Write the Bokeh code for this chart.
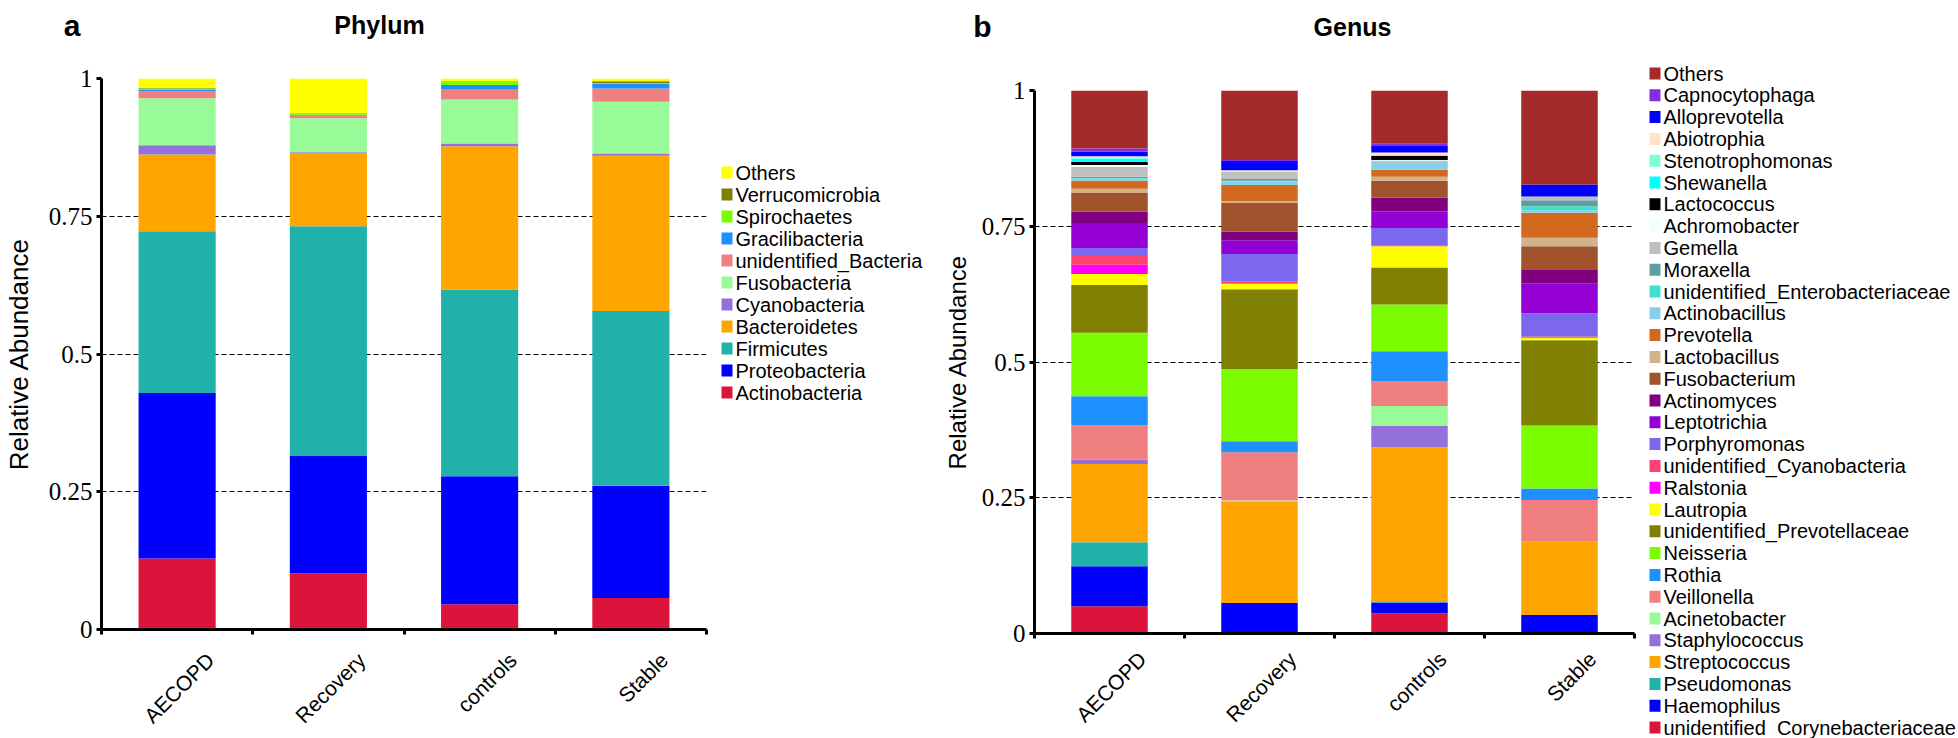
import math
from bokeh.plotting import figure
from bokeh.models import Range1d, FixedTicker, CustomJSTickFormatter, ColumnDataSource
from bokeh.layouts import row, column
from bokeh.embed import file_html
from bokeh.resources import INLINE
from bokeh.core.properties import value

# ---------------- data ----------------
categories = ["AECOPD", "Recovery", "controls", "Stable"]

# Phylum (bottom -> top of stack)
phylum_names = ["Actinobacteria", "Proteobacteria", "Firmicutes", "Bacteroidetes",
                "Cyanobacteria", "Fusobacteria", "unidentified_Bacteria",
                "Gracilibacteria", "Spirochaetes", "Verrucomicrobia", "Others"]
phylum_colors = ["#DC143C", "#0000FF", "#20B2AA", "#FFA500", "#9370DB", "#98FB98",
                 "#F08080", "#1E90FF", "#7CFC00", "#808000", "#FFFF00"]
phylum_AECOPD = [0.129, 0.300, 0.294, 0.139, 0.017, 0.085, 0.013, 0.003, 0.002, 0.001, 0.017]
phylum_Recovery = [0.102, 0.214, 0.416, 0.133, 0.001, 0.062, 0.005, 0.001, 0.002, 0.001, 0.063]
phylum_controls = [0.046, 0.232, 0.339, 0.260, 0.005, 0.080, 0.019, 0.007, 0.006, 0.001, 0.005]
phylum_Stable = [0.057, 0.204, 0.317, 0.282, 0.004, 0.094, 0.024, 0.008, 0.002, 0.003, 0.005]

# Genus (bottom -> top of stack)
genus_names = ["unidentified_Corynebacteriaceae", "Haemophilus", "Pseudomonas",
               "Streptococcus", "Staphylococcus", "Acinetobacter", "Veillonella",
               "Rothia", "Neisseria", "unidentified_Prevotellaceae", "Lautropia",
               "Ralstonia", "unidentified_Cyanobacteria", "Porphyromonas",
               "Leptotrichia", "Actinomyces", "Fusobacterium", "Lactobacillus",
               "Prevotella", "Actinobacillus", "unidentified_Enterobacteriaceae",
               "Moraxella", "Gemella", "Achromobacter", "Lactococcus", "Shewanella",
               "Stenotrophomonas", "Abiotrophia", "Alloprevotella", "Capnocytophaga",
               "Others"]
genus_colors = ["#DC143C", "#0000FF", "#20B2AA", "#FFA500", "#9370DB", "#98FB98",
                "#F08080", "#1E90FF", "#7CFC00", "#808000", "#FFFF00", "#FF00FF",
                "#FF4070", "#7B68EE", "#9400D3", "#800080", "#A0522D", "#D2B48C",
                "#D2691E", "#87CEEB", "#40E0D0", "#5F9EA0", "#C0C0C0", "#F0FFFF",
                "#000000", "#00FFFF", "#7FFFD4", "#FFE4C4", "#0000FF", "#8A2BE2",
                "#A52A2A"]
genus_AECOPD = [0.050, 0.074, 0.044, 0.144, 0.008, 0.000, 0.063, 0.054, 0.117, 0.088,
                0.020, 0.017, 0.016, 0.015, 0.046, 0.021, 0.035, 0.007, 0.015, 0.004,
                0.001, 0.002, 0.018, 0.004, 0.006, 0.006, 0.002, 0.002, 0.008, 0.006,
                0.107]
genus_Recovery = [0.000, 0.056, 0.000, 0.186, 0.001, 0.002, 0.089, 0.020, 0.133, 0.147,
                  0.010, 0.001, 0.003, 0.051, 0.025, 0.016, 0.053, 0.003, 0.030, 0.007,
                  0.001, 0.003, 0.014, 0.002, 0.000, 0.000, 0.000, 0.000, 0.017, 0.002,
                  0.128]
genus_controls = [0.037, 0.020, 0.001, 0.285, 0.039, 0.037, 0.045, 0.056, 0.086, 0.068,
                  0.039, 0.000, 0.002, 0.032, 0.030, 0.026, 0.031, 0.007, 0.013, 0.014,
                  0.000, 0.001, 0.002, 0.001, 0.008, 0.000, 0.001, 0.005, 0.012, 0.004,
                  0.098]
genus_Stable = [0.000, 0.034, 0.000, 0.135, 0.000, 0.000, 0.077, 0.021, 0.116, 0.157,
                0.004, 0.001, 0.002, 0.043, 0.055, 0.026, 0.042, 0.016, 0.046, 0.004,
                0.008, 0.011, 0.007, 0.000, 0.000, 0.000, 0.000, 0.000, 0.022, 0.000,
                0.173]

y_ticks = [0, 0.25, 0.5, 0.75, 1]
grid_ticks = [0.25, 0.5, 0.75]

FONT = "Liberation Sans"
NARROW = "Liberation Sans Narrow"
TOTAL_H = 738
LABEL_SHIFT = 0.22   # rotated labels are anchored at their right end, a bit right of the bar


def make_header(width, height, letter, letter_xy, title, title_xy):
    h = figure(width=width, height=height, x_range=Range1d(0, width),
               y_range=Range1d(height, 0), output_backend="svg", toolbar_location=None,
               min_border=0, x_axis_type=None, y_axis_type=None, title=None,
               frame_align=False)
    h.outline_line_color = None
    h.text(x=[letter_xy[0]], y=[letter_xy[1]], text=[letter], text_align="center",
           text_baseline="alphabetic", text_font=value(FONT), text_font_size=value("30px"),
           text_font_style="bold", text_color="black")
    h.text(x=[title_xy[0]], y=[title_xy[1]], text=[title], text_align="center",
           text_baseline="alphabetic", text_font=value(FONT), text_font_size=value("25px"),
           text_font_style="bold", text_color="black")
    return h


def make_chart(names, colors, per_cat, width, height, bl, br, bt, frame_h, ylabel_size,
               ylabel_standoff, xlabel_standoff):
    bb = height - bt - frame_h
    p = figure(width=width, height=height, x_range=Range1d(0, len(categories)),
               y_range=Range1d(0, 1), output_backend="svg", toolbar_location=None,
               min_border_left=bl, min_border_right=br, min_border_top=bt,
               min_border_bottom=bb, title=None, frame_align=False)
    data = {"x": [i + 0.5 for i in range(len(categories))]}
    for j, n in enumerate(names):
        data[n] = [vals[j] for vals in per_cat]
    src = ColumnDataSource(data)
    p.vbar_stack(names, x="x", width=0.51, fill_color=colors, line_color=None, source=src)

    p.outline_line_color = None
    p.xgrid.visible = False
    p.ygrid.ticker = FixedTicker(ticks=grid_ticks)
    p.ygrid.grid_line_color = "black"
    p.ygrid.grid_line_dash = "5 3"
    p.ygrid.grid_line_width = 1

    # x axis: labels near the bar centres, small ticks at the category boundaries
    p.xaxis.ticker = FixedTicker(ticks=[i + 0.5 + LABEL_SHIFT for i in range(len(categories))],
                                 minor_ticks=list(range(len(categories) + 1)))
    p.xaxis.formatter = CustomJSTickFormatter(args=dict(names=categories),
                                              code="return names[Math.floor(tick)]")
    p.xaxis.major_label_orientation = math.pi / 4
    p.xaxis.major_tick_line_color = None
    p.xaxis.major_tick_out = 0
    p.xaxis.major_tick_in = 0
    p.xaxis.minor_tick_line_color = "black"
    p.xaxis.minor_tick_line_width = 3
    p.xaxis.minor_tick_out = 5
    p.xaxis.minor_tick_in = 0
    p.xaxis.major_label_standoff = xlabel_standoff
    p.xaxis.major_label_text_font = FONT
    p.xaxis.major_label_text_font_size = "21px"
    p.xaxis.major_label_text_color = "black"
    p.xaxis.axis_line_width = 3
    p.xaxis.axis_line_color = "black"

    p.yaxis.ticker = FixedTicker(ticks=y_ticks)
    p.yaxis.formatter = CustomJSTickFormatter(code="return tick.toString()")
    p.yaxis.axis_line_width = 3
    p.yaxis.axis_line_color = "black"
    p.yaxis.major_tick_line_width = 3
    p.yaxis.major_tick_line_color = "black"
    p.yaxis.major_tick_out = 5
    p.yaxis.major_tick_in = 0
    p.yaxis.minor_tick_line_color = None
    p.yaxis.major_label_text_font = NARROW
    p.yaxis.major_label_text_font_size = "25px"
    p.yaxis.major_label_text_color = "black"
    p.yaxis.major_label_standoff = 4
    p.yaxis.axis_label = "Relative Abundance"
    p.yaxis.axis_label_text_font = FONT
    p.yaxis.axis_label_text_font_size = ylabel_size
    p.yaxis.axis_label_text_font_style = "normal"
    p.yaxis.axis_label_text_color = "black"
    p.yaxis.axis_label_standoff = ylabel_standoff
    return p


def make_legend(names, colors, width, height, y0, dy, font_size):
    lg = figure(width=width, height=height, x_range=Range1d(0, width),
                y_range=Range1d(height, 0), output_backend="svg", toolbar_location=None,
                min_border=0, x_axis_type=None, y_axis_type=None, title=None,
                frame_align=False)
    lg.outline_line_color = None
    order = list(reversed(range(len(names))))
    ys = [y0 + k * dy for k in range(len(names))]
    lg.quad(left=9, right=20, top=[y - 6 for y in ys], bottom=[y + 6 for y in ys],
            fill_color=[colors[i] for i in order], line_color=None)
    lg.text(x=23, y=ys, text=[names[i] for i in order], text_baseline="middle",
            text_align="left", text_font=value(FONT), text_font_size=value(font_size),
            text_color="black")
    return lg


headA = make_header(712, 58, "a", (71.5, 25), "Phylum", (379, 24))
pA = make_chart(phylum_names, phylum_colors,
                [phylum_AECOPD, phylum_Recovery, phylum_controls, phylum_Stable],
                width=712, height=TOTAL_H - 58, bl=97, br=6, bt=20, frame_h=552,
                ylabel_size="26px", ylabel_standoff=12, xlabel_standoff=22)
lgA = make_legend(phylum_names, phylum_colors, width=228, height=TOTAL_H, y0=172, dy=22,
                  font_size="20px")
headB = make_header(700, 68, "b", (42, 26), "Genus", (412, 26))
pB = make_chart(genus_names, genus_colors,
                [genus_AECOPD, genus_Recovery, genus_controls, genus_Stable],
                width=700, height=TOTAL_H - 68, bl=93, br=6, bt=22, frame_h=543,
                ylabel_size="24px", ylabel_standoff=8, xlabel_standoff=17)
lgB = make_legend(genus_names, genus_colors, width=318, height=TOTAL_H, y0=73, dy=21.8,
                  font_size="20px")

layout = row(column(headA, pA, spacing=0), lgA, column(headB, pB, spacing=0), lgB,
             spacing=0)
open("out.html", "w").write(file_html(layout, INLINE))
